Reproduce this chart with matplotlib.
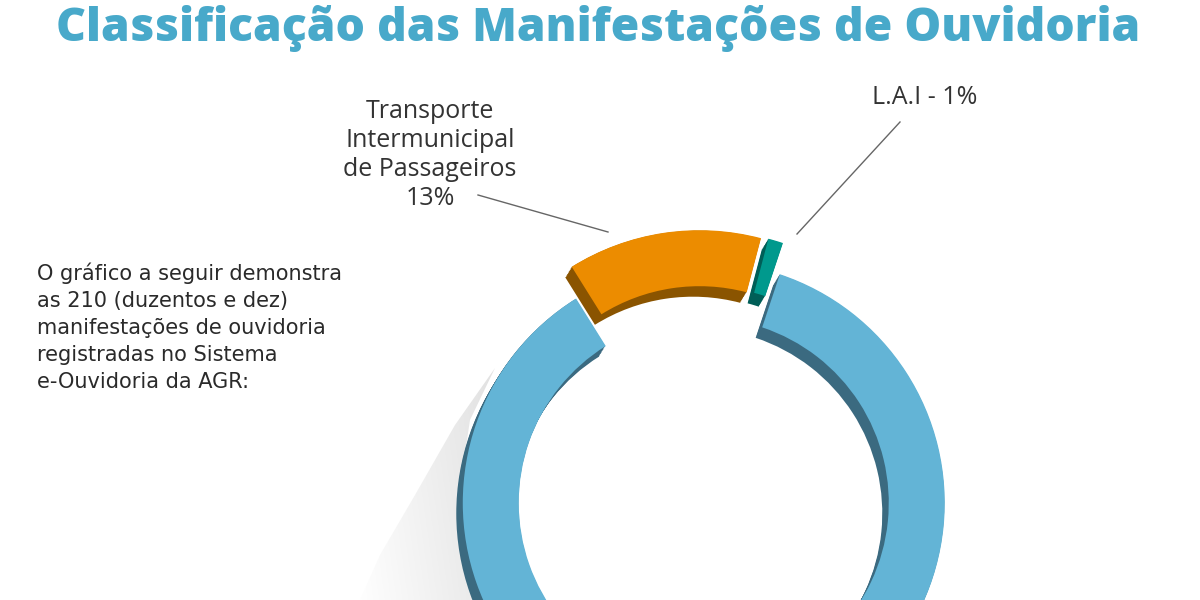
import numpy as np
import matplotlib
matplotlib.use("Agg")
import matplotlib.pyplot as plt
from matplotlib.patches import Polygon
from matplotlib.colors import LinearSegmentedColormap

# ---- data ----
categories = ["Outros", "L.A.I", "Transporte Intermunicipal de Passageiros"]
values = [86, 1, 13]
colors = ["#63B4D6", "#00998D", "#EC8C00"]
dark_colors = ["#3B6A80", "#005E57", "#8A5400"]
explode = [15, 17, 17]

title = "Classificação das Manifestações de Ouvidoria"
intro = ("O gráfico a seguir demonstra\nas 210 (duzentos e dez)\n"
         "manifestações de ouvidoria\nregistradas no Sistema\ne-Ouvidoria da AGR:")
label_tip = "Transporte\nIntermunicipal\nde Passageiros\n13%"
label_lai = "L.A.I - 1%"

W, H = 1200, 600
fig = plt.figure(figsize=(12, 6), dpi=100)
ax = fig.add_axes([0, 0, 1, 1])

def Y(y):  # image y -> data y
    return H - y

cx, cy = 702, Y(488)
R, width = 241, 56

# soft cast shadow on the left
shadow_pts = [(495, 368), (455, 425), (415, 495), (380, 555), (360, 600),
              (475, 600), (463, 540), (461, 480), (470, 420)]
poly = Polygon([(x, Y(y)) for x, y in shadow_pts], closed=True,
               facecolor="none", edgecolor="none")
ax.add_patch(poly)
gx = np.linspace(0, 1, 200)
gy = np.linspace(0, 1, 200)
GX, GY = np.meshgrid(gx, gy)
grad = np.clip(GX * 0.85 + (1 - GY) * 0.2, 0, 1)
cmap = LinearSegmentedColormap.from_list("sh", ["#ffffff", "#e2e2e2"])
im = ax.imshow(grad, extent=(355, 500, Y(600), Y(365)), cmap=cmap,
               origin="upper", zorder=0.5, aspect="auto")
im.set_clip_path(poly)

# extrusion (dark depth)
for k in np.linspace(1, 0, 8):
    off = (-6 * k - 0.5, -10 * k - 0.5)
    ax.pie(values, colors=dark_colors, startangle=122, counterclock=True,
           explode=explode, radius=R, center=(cx + off[0], cy + off[1]),
           wedgeprops=dict(width=width, edgecolor="none", linewidth=0),
           frame=True)

# top face
ax.pie(values, colors=colors, startangle=122, counterclock=True,
       explode=explode, radius=R, center=(cx, cy),
       wedgeprops=dict(width=width, edgecolor="none", linewidth=0),
       frame=True)

ax.set_xlim(0, W)
ax.set_ylim(0, H)
ax.set_aspect("equal")
ax.axis("off")

# title
ax.text(598, Y(29), title, ha="center", va="center", fontsize=33.3,
        fontweight="extra bold", family="Open Sans", color="#48A9CA")

# intro text
ax.text(37, Y(262), intro, ha="left", va="top", fontsize=15,
        family="DejaVu Sans", color="#2a2a2a", linespacing=1.45)

# labels
ax.text(430, Y(155), label_tip, ha="center", va="center", fontsize=18,
        family="Open Sans", color="#333333", linespacing=1.2)
ax.text(925, Y(97), label_lai, ha="center", va="center", fontsize=18,
        family="Open Sans", color="#333333")

# leader lines
ax.plot([478, 608], [Y(195), Y(232)], color="#666666", lw=1)
ax.plot([900, 797], [Y(122), Y(234)], color="#666666", lw=1)

fig.savefig("out.png", dpi=100, facecolor="white")
